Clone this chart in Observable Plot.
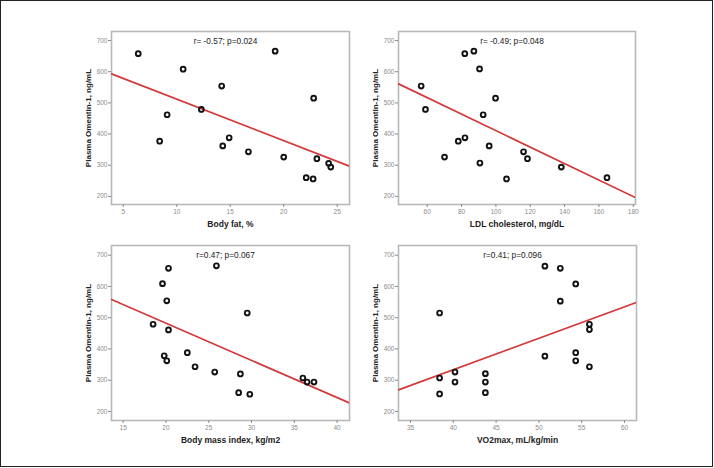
<!DOCTYPE html>
<html>
<head>
<meta charset="utf-8">
<script src="https://cdn.jsdelivr.net/npm/d3@7"></script>
<script src="https://cdn.jsdelivr.net/npm/@observablehq/plot@0.6"></script>
<style>
  html, body { margin: 0; padding: 0; background: #fff; }
  #wrap { position: relative; width: 714px; height: 468px; overflow: hidden; background: #fff; }
  #border { position: absolute; left: 0; top: 0; width: 713px; height: 467px; box-sizing: border-box; border: 1.5px solid #222; pointer-events: none; }
  .panel { position: absolute; }
</style>
</head>
<body>
<div id="wrap"><div id="border"></div></div>
<script>
// ---- Data ----
const yTicks = [200, 300, 400, 500, 600, 700];
const yLabel = "Plasma Omentin-1, ng/mL";

// Panel 1: Body fat
const bodyFat    = [6.4, 8.4, 9.1, 10.6, 12.3, 14.2, 14.3, 14.9, 16.7, 19.2, 20.0, 22.1, 22.75, 22.8, 23.1, 24.2, 24.4];
const omentinBF  = [658, 377, 462, 608, 479, 554, 362, 388, 343, 666, 326, 260, 256, 515, 321, 306, 294];
const fitBFx = [3.9, 26.15];
const fitBFy = [593, 297];
const bfTicks = [5, 10, 15, 20, 25];

// Panel 2: LDL cholesterol
const ldl        = [56.5, 59.0, 70.1, 78.1, 82.0, 81.9, 87.2, 90.5, 90.7, 92.6, 96.1, 99.8, 106.2, 116.1, 118.4, 138.1, 164.7];
const omentinLDL = [554, 479, 326, 377, 388, 658, 666, 609, 307, 462, 362, 515, 256, 343, 321, 294, 260];
const fitLDLx = [43.3, 181.3];
const fitLDLy = [561, 196];
const ldlTicks = [60, 80, 100, 120, 140, 160, 180];

// Panel 3: Body mass index
const bmi        = [20.3, 19.6, 25.9, 20.1, 29.5, 18.5, 20.3, 19.8, 20.1, 22.5, 23.4, 25.7, 28.7, 28.5, 29.8, 36.0, 36.5, 37.3];
const omentinBMI = [658, 609, 666, 554, 515, 479, 461, 378, 362, 388, 343, 326, 320, 260, 255, 307, 294, 294];
const fitBMIx = [13.64, 41.45];
const fitBMIy = [558, 227];
const bmiTicks = [15, 20, 25, 30, 35, 40];

// Panel 4: VO2max
const vo2        = [38.4, 38.4, 38.4, 40.2, 40.2, 43.75, 43.75, 43.75, 50.7, 52.5, 54.3, 52.5, 50.7, 54.3, 54.3, 55.9, 55.9, 55.9];
const omentinVO2 = [515, 307, 256, 326, 294, 321, 294, 260, 665, 658, 608, 553, 377, 388, 362, 479, 462, 343];
const fitVO2x = [33.6, 61.4];
const fitVO2y = [269, 549];
const vo2Ticks = [35, 40, 45, 50, 55, 60];

const xLabels = ["Body fat, %", "LDL cholesterol, mg/dL", "Body mass index, kg/m2", "VO2max, mL/kg/min"];
const notes = ["r= -0.57; p=0.024", "r= -0.49; p=0.048", "r=0.47; p=0.067", "r=0.41; p=0.096"];

// ---- Build panels ----
const zip = (xs, ys) => xs.map((x, i) => ({x, y: ys[i]}));

const panels = [
  {left: 0,   top: 0,   xs: bodyFat, ys: omentinBF,  fx: fitBFx,  fy: fitBFy,  xDomain: [3.9, 26.15],  yDomain: [174, 729], ticks: bfTicks,  ml: 111, mr: 8,  mt: 31, mb: 30},
  {left: 357, top: 0,   xs: ldl,     ys: omentinLDL, fx: fitLDLx, fy: fitLDLy, xDomain: [43.3, 181.3], yDomain: [174, 729], ticks: ldlTicks, ml: 41,  mr: 79, mt: 31, mb: 30},
  {left: 0,   top: 234, xs: bmi,     ys: omentinBMI, fx: fitBMIx, fy: fitBMIy, xDomain: [13.64, 41.45],yDomain: [171, 731], ticks: bmiTicks, ml: 111, mr: 8,  mt: 11, mb: 48},
  {left: 357, top: 234, xs: vo2,     ys: omentinVO2, fx: fitVO2x, fy: fitVO2y, xDomain: [33.6, 61.4],  yDomain: [171, 731], ticks: vo2Ticks, ml: 41,  mr: 78, mt: 11, mb: 48}
];

const wrap = document.getElementById("wrap");
panels.forEach((p, i) => {
  const chart = Plot.plot({
    width: 357,
    height: 234,
    marginLeft: p.ml,
    marginRight: p.mr,
    marginTop: p.mt,
    marginBottom: p.mb,
    x: {domain: p.xDomain},
    y: {domain: p.yDomain},
    style: {fontFamily: "'Liberation Sans', Arial, sans-serif", fontSize: "6.5px", background: "transparent", overflow: "visible"},
    marks: [
      Plot.frame({stroke: "#b8b8b8", strokeWidth: 1.6}),
      Plot.axisX({ticks: p.ticks, tickSize: 3, tickPadding: 2, label: null, color: "#8c8c8c"}),
      Plot.axisY({ticks: yTicks, tickSize: 3, tickPadding: 1, label: null, color: "#8c8c8c"}),
      Plot.line(zip(p.fx, p.fy), {x: "x", y: "y", stroke: "#d2393b", strokeWidth: 1.7, clip: true}),
      Plot.dot(zip(p.xs, p.ys), {x: "x", y: "y", r: 2.4, stroke: "#111", strokeWidth: 1.9, fill: "none"}),
      Plot.text([notes[i]], {text: d => d, frameAnchor: "top", lineAnchor: "middle", textAnchor: "middle", dy: 10, dx: -5, fontSize: 8.3, fill: "#222"}),
      Plot.text([xLabels[i]], {text: d => d, frameAnchor: "bottom", lineAnchor: "middle", textAnchor: "middle", dy: 20, fontSize: 8.5, fontWeight: "bold", fill: "#222"}),
      Plot.text([yLabel], {text: d => d, frameAnchor: "left", lineAnchor: "middle", textAnchor: "middle", dx: -23, rotate: -90, fontSize: 8, fontWeight: "bold", fill: "#222"})
    ]
  });
  chart.classList.add("panel");
  chart.style.left = p.left + "px";
  chart.style.top = p.top + "px";
  wrap.appendChild(chart);
});
</script>
</body>
</html>
